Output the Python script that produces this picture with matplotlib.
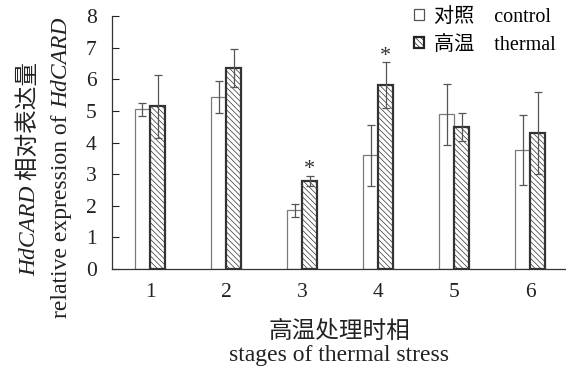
import numpy as np
import matplotlib
matplotlib.use('Agg')
import matplotlib.pyplot as plt
from matplotlib.patches import Patch

# --- DATA ---
stages = [1, 2, 3, 4, 5, 6]
control_mean = [5.05, 5.43, 1.85, 3.59, 4.89, 3.76]
control_err = [0.20, 0.50, 0.20, 0.95, 0.96, 1.10]
thermal_mean = [5.14, 6.37, 2.78, 5.82, 4.49, 4.29]
thermal_err = [1.00, 0.60, 0.17, 0.72, 0.43, 1.30]
significant = [False, False, True, True, False, False]

plt.rcParams['font.family'] = ['Liberation Serif', 'Noto Sans CJK SC']
plt.rcParams['hatch.linewidth'] = 0.5
plt.rcParams['hatch.color'] = '#333333'

fig = plt.figure(figsize=(5.66, 3.69), dpi=100)
ax = fig.add_axes([0.198, 0.271, 0.802, 0.6856])

x = np.array(stages)
width = 0.2
hatch = '\\' * 6

ax.bar(x - width/2, control_mean, width, yerr=control_err, color='white',
       edgecolor='#7a7a7a', linewidth=0.9, capsize=3,
       error_kw=dict(ecolor='#555555', elinewidth=0.9, capthick=0.9))
ax.bar(x + width/2, thermal_mean, width, yerr=thermal_err, color='white',
       edgecolor='#333333', linewidth=1.6, hatch=hatch, capsize=3,
       error_kw=dict(ecolor='#555555', elinewidth=0.9, capthick=0.9))

# significance stars
for xi, m, e, s in zip(x, thermal_mean, thermal_err, significant):
    if s:
        ax.text(xi + width/2, m + e + 0.05, '*', ha='center', va='baseline',
                fontsize=16, color='#333333')

ax.set_xlim(0.5, 6.47)
ax.set_ylim(0, 8)
ax.set_yticks(range(0, 9))
ax.set_xticks(stages)
ax.tick_params(axis='y', direction='in', length=5, width=0.8, pad=11,
               labelsize=15.5, colors='#222222')
ax.tick_params(axis='x', length=0, pad=10, labelsize=15.5, colors='#222222')
for side in ['top', 'right']:
    ax.spines[side].set_visible(False)
for side in ['left', 'bottom']:
    ax.spines[side].set_color('#333333')
    ax.spines[side].set_linewidth(0.9)

# x label as figure text
fig.text(339/566, 1 - 332/369, '高温处理时相', ha='center', va='center',
         fontsize=17, color='#222222')
fig.text(339/566, 1 - 356/369, 'stages of thermal stress', ha='center',
         va='center', fontsize=17, color='#222222')


# y label: vertical text built piece by piece (italic gene name + plain text)
def vertical_line(x_px, y_center_px, pieces):
    renderer = fig.canvas.get_renderer()
    texts, total = [], 0
    for s, style in pieces:
        t = fig.text(0, 0, s, rotation=90, rotation_mode='anchor',
                     ha='left', va='baseline', fontsize=17, style=style,
                     color='#222222', transform=None)
        h = t.get_window_extent(renderer).height
        texts.append((t, h))
        total += h
    y = (369 - y_center_px) - total / 2
    for t, h in texts:
        t.set_position((x_px, y))
        y += h


vertical_line(35, 169, [('HdCARD', 'italic'), (' 相对表达量', 'normal')])
vertical_line(67, 168, [('relative expression of ', 'normal'),
                        ('HdCARD', 'italic')])

handles = [Patch(facecolor='white', edgecolor='#555555', linewidth=0.9),
           Patch(facecolor='white', edgecolor='#222222', linewidth=1.6,
                 hatch=hatch)]
ax.legend(handles, ['对照    control', '高温    thermal'], loc='upper right',
          bbox_to_anchor=(0.995, 1.065), frameon=False, fontsize=14.5,
          handlelength=0.5, handleheight=0.5, handletextpad=0.5,
          labelspacing=0.45, borderaxespad=0.0)

plt.savefig('out.png', dpi=100)
